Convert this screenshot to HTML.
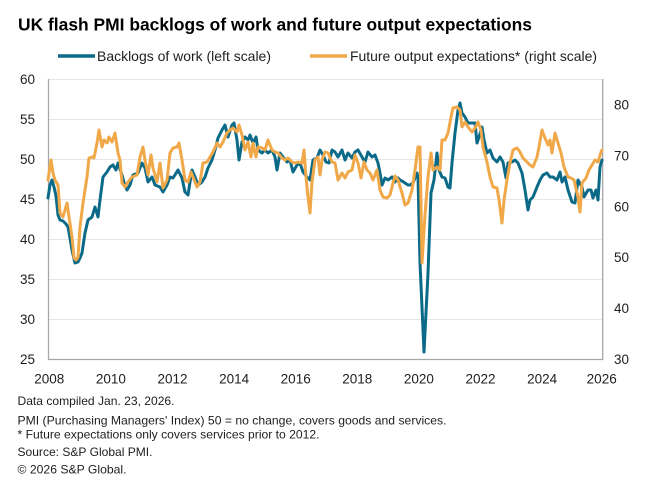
<!DOCTYPE html>
<html>
<head>
<meta charset="utf-8">
<style>
  html,body{margin:0;padding:0;background:#fff;}
  svg{display:block;}
  text{font-family:"Liberation Sans",Arial,sans-serif;fill:#1e1e1e;}
</style>
</head>
<body>
<svg width="663" height="504" viewBox="0 0 663 504" xmlns="http://www.w3.org/2000/svg">
  <rect x="0" y="0" width="663" height="504" fill="#ffffff"/>

  <!-- Title -->
  <text x="18" y="30.5" font-size="17.5" font-weight="bold" textLength="514" lengthAdjust="spacingAndGlyphs" style="fill:#000">UK flash PMI backlogs of work and future output expectations</text>

  <!-- Legend -->
  <line x1="58" y1="56" x2="95" y2="56" stroke="#0b6a88" stroke-width="3.5"/>
  <text x="97" y="61" font-size="14" textLength="174" lengthAdjust="spacingAndGlyphs">Backlogs of work (left scale)</text>
  <line x1="310" y1="56" x2="347" y2="56" stroke="#f0a848" stroke-width="3.5"/>
  <text x="350" y="61" font-size="14" textLength="247" lengthAdjust="spacingAndGlyphs">Future output expectations* (right scale)</text>

  <!-- Gridlines -->
  <g stroke="#e6e6e6" stroke-width="1">
    <line x1="48" y1="79.5" x2="603" y2="79.5"/>
    <line x1="48" y1="119.5" x2="603" y2="119.5"/>
    <line x1="48" y1="159.5" x2="603" y2="159.5"/>
    <line x1="48" y1="199.5" x2="603" y2="199.5"/>
    <line x1="48" y1="239.5" x2="603" y2="239.5"/>
    <line x1="48" y1="279.5" x2="603" y2="279.5"/>
    <line x1="48" y1="319.5" x2="603" y2="319.5"/>
  </g>

  <!-- Axes -->
  <g stroke="#a6a6a6" stroke-width="1.3">
    <line x1="48.5" y1="79" x2="48.5" y2="359.5"/>
    <line x1="602.7" y1="79" x2="602.7" y2="359.5"/>
    <line x1="48" y1="359.5" x2="603.3" y2="359.5"/>
  </g>

  <!-- Left tick labels -->
  <g font-size="13.5" text-anchor="end">
    <text x="35" y="84">60</text>
    <text x="35" y="124">55</text>
    <text x="35" y="164">50</text>
    <text x="35" y="204">45</text>
    <text x="35" y="244">40</text>
    <text x="35" y="284">35</text>
    <text x="35" y="324">30</text>
    <text x="35" y="364">25</text>
  </g>

  <!-- Right tick labels -->
  <g font-size="13.5" text-anchor="start">
    <text x="614" y="109.5">80</text>
    <text x="614" y="160.4">70</text>
    <text x="614" y="211.3">60</text>
    <text x="614" y="262.2">50</text>
    <text x="614" y="313.1">40</text>
    <text x="614" y="364">30</text>
  </g>

  <!-- X labels -->
  <g font-size="13.5" text-anchor="middle">
    <text x="49.3" y="383.5">2008</text>
    <text x="110.9" y="383.5">2010</text>
    <text x="172.5" y="383.5">2012</text>
    <text x="234.1" y="383.5">2014</text>
    <text x="295.7" y="383.5">2016</text>
    <text x="357.3" y="383.5">2018</text>
    <text x="418.9" y="383.5">2020</text>
    <text x="480.5" y="383.5">2022</text>
    <text x="542.1" y="383.5">2024</text>
    <text x="601.7" y="383.5">2026</text>
  </g>

  <!-- Backlogs of work (blue) -->
  <polyline fill="none" stroke="#0b6a88" stroke-width="3" stroke-linejoin="round" stroke-linecap="round" points="
    48,198 50,185 52,180 54,187 56,196 58,215 60,220 63,221 66,224 68,227 70,238 72,250 74,259 75,263 78,262 80,258 82,253 85,233 88,220 92,217 95,207 98,217 100,200 103,177 107,172 110,167 113,165 116,170 118,163 122,175 125,186 127,190 130,185 133,175 138,173 142,163 145,168 148,182 152,177 155,185 160,187 163,192 167,185 170,177 173,178 178,170 182,178 185,192 188,195 190,182 192,170 195,177 198,185 202,182 205,177 208,168 212,160 215,150 218,138 222,130 225,125 228,137 232,125 234,123 237,140 239,160 242,142 245,137 248,140 250,135 253,143 256,137 258,150 262,153 265,150 268,153 272,150 275,157 277,170 280,153 283,157 287,162 290,160 293,172 297,165 300,163 303,172 307,177 310,180 313,160 317,158 320,150 323,155 326,162 329,163 332,150 335,152 338,157 342,150 345,160 348,153 352,158 355,152 358,150 362,157 365,162 368,152 372,157 375,155 378,163 380,173 382,185 385,178 388,180 392,177 395,182 398,178 400,180 402,181 405,183 408,185 410,185 413,183 417,173 418,177 420,263 424,352 428,273 431,193 434,180 437,153 439,170 442,177 445,178 448,187 450,188 452,163 455,133 458,110 460,103 462,113 465,117 468,123 472,123 475,123 477,143 479,137 482,127 484,140 487,153 490,150 493,158 497,162 500,157 503,162 506,178 508,163 512,162 515,160 518,163 522,173 525,190 528,210 530,200 533,197 537,187 540,180 543,175 547,173 550,177 553,177 557,180 560,172 562,182 565,177 568,190 572,202 575,203 578,180 582,187 584,197 588,190 591,190 593,198 596,190 598,200 600,167 602,160"/>

  <!-- Future output expectations (orange) -->
  <polyline fill="none" stroke="#f0a848" stroke-width="3" stroke-linejoin="round" stroke-linecap="round" points="
    48,180 51,160 53,173 55,180 58,185 60,213 63,217 67,203 69,217 72,237 74,258 76,260 78,257 80,227 83,203 87,177 89,158 92,157 94,158 97,143 99,130 102,147 104,140 107,143 109,137 112,142 115,133 118,153 120,160 122,183 125,187 128,182 132,177 137,175 140,157 143,147 145,160 148,175 151,155 153,168 157,182 160,163 163,188 167,180 170,153 173,148 177,147 179,143 182,160 185,180 188,182 191,172 193,177 197,187 200,182 203,163 207,162 210,157 213,152 217,143 220,147 223,142 227,133 230,130 233,128 237,132 239,125 242,135 245,150 248,142 251,157 253,143 256,157 258,147 262,148 265,150 268,140 272,150 275,152 278,153 282,158 285,160 288,158 292,162 295,163 298,162 302,163 304,150 306,177 308,197 310,213 312,182 315,160 318,157 320,175 322,160 325,152 328,153 332,162 335,163 338,180 342,173 345,178 348,172 352,170 355,155 358,163 361,178 364,162 367,170 370,173 373,180 377,170 380,190 383,197 387,198 390,195 393,183 395,176 398,180 402,193 405,205 408,203 412,190 415,170 418,147 420,147 422,263 425,215 428,177 431,153 433,170 437,167 440,170 442,140 445,140 448,133 451,117 453,108 457,107 460,110 462,127 465,122 468,127 472,132 475,128 478,122 481,130 483,147 487,162 490,177 493,187 497,188 499,200 502,223 504,200 507,180 510,163 513,150 517,148 520,152 523,158 527,162 530,165 533,167 537,157 539,147 542,130 545,138 548,145 550,140 552,153 555,133 558,143 561,153 564,167 568,177 571,178 574,180 578,197 580,212 582,183 586,178 589,170 592,165 595,160 598,162 601,152 602,150"/>

  <!-- Footnotes -->
  <g font-size="12">
    <text x="17.5" y="405" textLength="157" lengthAdjust="spacingAndGlyphs">Data compiled Jan. 23, 2026.</text>
    <text x="17.5" y="424.3" textLength="429" lengthAdjust="spacingAndGlyphs">PMI (Purchasing Managers' Index) 50 = no change, covers goods and services.</text>
    <text x="17.5" y="438.3" textLength="302" lengthAdjust="spacingAndGlyphs">* Future expectations only covers services prior to 2012.</text>
    <text x="17.5" y="456" textLength="135" lengthAdjust="spacingAndGlyphs">Source: S&amp;P Global PMI.</text>
    <text x="17.5" y="473.3" textLength="109" lengthAdjust="spacingAndGlyphs">© 2026 S&amp;P Global.</text>
  </g>
</svg>
</body>
</html>
